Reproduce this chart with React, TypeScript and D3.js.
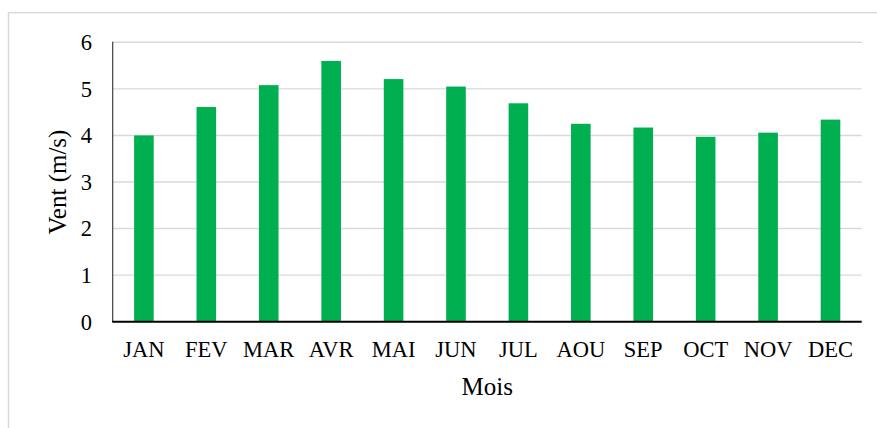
import React from "react";
import * as d3 from "d3";

const months = ["JAN", "FEV", "MAR", "AVR", "MAI", "JUN", "JUL", "AOU", "SEP", "OCT", "NOV", "DEC"];
const windSpeed = [4.0, 4.61, 5.08, 5.6, 5.21, 5.05, 4.69, 4.25, 4.17, 3.97, 4.06, 4.34];
const yTicks = [0, 1, 2, 3, 4, 5, 6];
const xTitle = "Mois";
const yTitle = "Vent (m/s)";

const W = 877;
const H = 428;
const left = 112.7;
const right = 861.7;
const top = 42.3;
const bottom = 321.7;
const FONT = "'Liberation Serif', 'Times New Roman', serif";

export default function App() {
  const x = d3.scaleBand<string>().domain(months).range([left, right]).paddingInner(0.686).paddingOuter(0.343);
  const y = d3.scaleLinear().domain([0, 6]).range([bottom, top]);

  return (
    <svg width={W} height={H} style={{ position: "absolute", left: 0, top: 0, background: "#fff" }}>
      <rect x={8.5} y={12.7} width={880} height={440} fill="#fff" stroke="#d9d9d9" strokeWidth={1.5} />
      {yTicks.map((t) => (
        <g key={t}>
          {t > 0 && <line x1={left} x2={right} y1={y(t)} y2={y(t)} stroke="#d9d9d9" strokeWidth={1.4} />}
          <text x={92} y={y(t)} dy="0.35em" textAnchor="end" fontFamily={FONT} fontSize={22.5} fill="#000">
            {t}
          </text>
        </g>
      ))}
      {months.map((m, i) => (
        <rect key={m} x={x(m)} y={y(windSpeed[i])} width={x.bandwidth()} height={y(0) - y(windSpeed[i])} fill="#00B050" />
      ))}
      <line x1={left} x2={left} y1={top - 0.5} y2={bottom} stroke="#404040" strokeWidth={1.2} />
      <line x1={left - 0.5} x2={right} y1={bottom} y2={bottom} stroke="#000" strokeWidth={2} />
      {months.map((m) => (
        <text key={m} x={(x(m) as number) + x.bandwidth() / 2} y={357} textAnchor="middle" fontFamily={FONT} fontSize={22.5} fill="#000">
          {m}
        </text>
      ))}
      <text x={(left + right) / 2} y={395} textAnchor="middle" fontFamily={FONT} fontSize={25} fill="#000">
        {xTitle}
      </text>
      <text transform={`translate(66, ${(top + bottom) / 2}) rotate(-90)`} textAnchor="middle" fontFamily={FONT} fontSize={25} fill="#000">
        {yTitle}
      </text>
    </svg>
  );
}
